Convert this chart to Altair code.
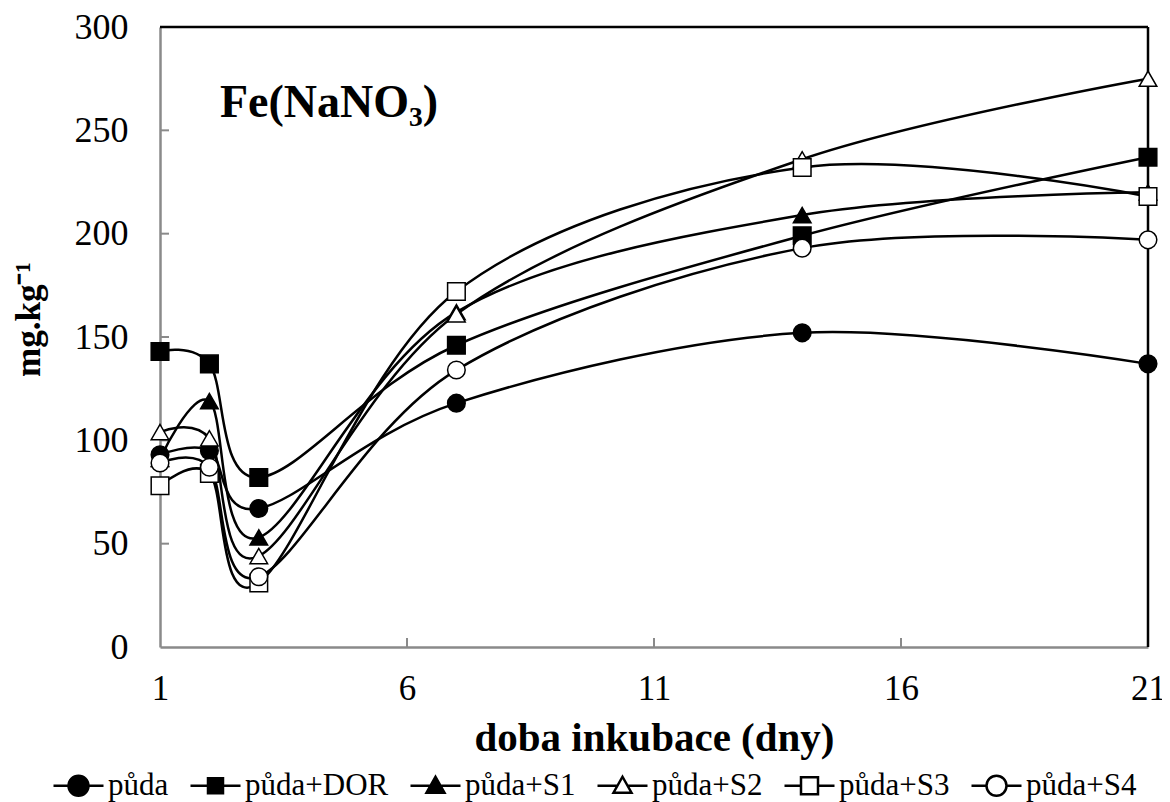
import altair as alt
import pandas as pd

# ---- data ----
days = [1, 2, 3, 7, 14, 21]
series_names = ["půda", "půda+DOR", "půda+S1", "půda+S2", "půda+S3", "půda+S4"]
puda = [93, 95, 67, 118, 152, 137]
puda_dor = [143, 137, 82, 146, 199, 237]
puda_s1 = [91, 119, 53, 162, 209, 220]
puda_s2 = [104, 101, 44, 161, 236, 275]
puda_s3 = [78, 84, 31, 172, 232, 218]
puda_s4 = [89, 87, 34, 134, 193, 197]
x_ticks = [1, 6, 11, 16, 21]
y_ticks = [0, 50, 100, 150, 200, 250, 300]

all_series = [puda, puda_dor, puda_s1, puda_s2, puda_s3, puda_s4]
rows = []
for name, vals in zip(series_names, all_series):
    for d, v in zip(days, vals):
        rows.append({"series": name, "day": d, "value": v})
df = pd.DataFrame(rows)

# ---- styles ----
FONT = "Liberation Serif"
GRAY = "#8a8a8a"
marker_shapes = ["circle", "square", "triangle-up", "triangle-up", "square", "circle"]
marker_fills = ["black", "black", "black", "white", "white", "white"]
legend_strokes = ["black"] * 6
legend_paths = [
    "M-1,0H-0.4M0.4,0H1M0.4,0A0.4,0.4,0,1,1,-0.4,0A0.4,0.4,0,1,1,0.4,0Z",
    "M-1,0H-0.3M0.3,0H1M-0.3,-0.3H0.3V0.3H-0.3Z",
    "M-1,0H-0.2M0.2,0H1M0,-0.36L0.36,0.28L-0.36,0.28Z",
    "M-1,0H-0.2M0.2,0H1M0,-0.36L0.36,0.28L-0.36,0.28Z",
    "M-1,0H-0.34M0.34,0H1M-0.34,-0.34H0.34V0.34H-0.34Z",
    "M-1,0H-0.4M0.4,0H1M0.4,0A0.4,0.4,0,1,1,-0.4,0A0.4,0.4,0,1,1,0.4,0Z",
]

x_scale = alt.Scale(domain=[1, 21], nice=False, zero=False)
y_scale = alt.Scale(domain=[0, 300], nice=False)

x_enc = alt.X(
    "day:Q", scale=x_scale,
    axis=alt.Axis(values=x_ticks, title="doba inkubace (dny)", labelFontSize=35,
                  labelBaseline="alphabetic", labelPadding=52, labelFlush=False,
                  titleFontSize=41, titleFontWeight="bold", titleBaseline="alphabetic",
                  titleY=103, titleX=494),
)
y_enc = alt.Y(
    "value:Q", scale=y_scale,
    axis=alt.Axis(values=y_ticks, title="mg.kg⁻¹", labelFontSize=36, labelPadding=32,
                  labelFlush=False,
                  titleFontSize=35, titleFontWeight="bold", titleBaseline="alphabetic",
                  titleX=-121, titleY=292),
)

base = alt.Chart(df)

lines = base.mark_line(interpolate="cardinal", color="black", strokeWidth=2.5).encode(
    x=x_enc, y=y_enc, detail="series:N"
)

points = base.mark_point(filled=True, size=310, stroke="black", strokeWidth=1.5, opacity=1).encode(
    x=x_enc, y=y_enc,
    shape=alt.Shape("series:N", scale=alt.Scale(domain=series_names, range=marker_shapes), legend=None),
    fill=alt.Fill("series:N", scale=alt.Scale(domain=series_names, range=marker_fills), legend=None),
)

legend_props = dict(
    orient="none", legendX=-108, legendY=732, direction="horizontal", columns=6,
    title=None, symbolSize=2500, symbolStrokeWidth=2.5, symbolStrokeColor="black",
    labelFont=FONT, labelFontSize=31, labelColor="black", labelOffset=3,
    columnPadding=16, padding=0, labelLimit=400,
)

legend_layer = base.transform_filter("false").mark_point(
    filled=True, strokeWidth=2.5, opacity=1
).encode(
    x=x_enc, y=y_enc,
    shape=alt.Shape("series:N", scale=alt.Scale(domain=series_names, range=legend_paths),
                    legend=alt.Legend(**legend_props)),
    fill=alt.Fill("series:N", scale=alt.Scale(domain=series_names, range=marker_fills),
                  legend=alt.Legend(**legend_props)),
    stroke=alt.Stroke("series:N", scale=alt.Scale(domain=series_names, range=legend_strokes),
                      legend=alt.Legend(**legend_props)),
)

# frame top/right
frame_df = pd.DataFrame({"k": [0]})
top_border = alt.Chart(frame_df).mark_rule(color="black", strokeWidth=2.5).encode(
    x=alt.datum(1), x2=alt.datum(21), y=alt.datum(300)
)
right_border = alt.Chart(frame_df).mark_rule(color="black", strokeWidth=2.5).encode(
    x=alt.datum(21), y=alt.datum(0), y2=alt.datum(300)
)

# inward ticks
ytick_df = pd.DataFrame({"value": y_ticks[1:]})
yticks = alt.Chart(ytick_df).mark_rule(color=GRAY, strokeWidth=2).encode(
    y=y_enc, x=alt.value(0), x2=alt.value(9)
)
xtick_df = pd.DataFrame({"day": x_ticks[1:-1]})
xticks = alt.Chart(xtick_df).mark_rule(color=GRAY, strokeWidth=2).encode(
    x=x_enc, y=alt.value(620), y2=alt.value(611)
)

title_df = pd.DataFrame({"t": ["Fe(NaNO₃)"]})
title = alt.Chart(title_df).mark_text(
    font=FONT, fontSize=46, fontWeight="bold", align="left", baseline="alphabetic", color="black"
).encode(text="t:N", x=alt.value(60), y=alt.value(90))

chart = alt.layer(
    yticks, xticks, top_border, right_border, lines, points, legend_layer, title
).resolve_scale(
    shape="independent", fill="independent", stroke="independent"
).properties(
    width=988, height=620,
    padding={"left": 152, "top": 19, "right": 14, "bottom": 155},
    autosize=alt.AutoSizeParams(type="none"),
    background="white",
).configure_axis(
    labelFont=FONT, titleFont=FONT, labelColor="black", titleColor="black",
    domainColor=GRAY, domainWidth=2.5, ticks=False, tickSize=0, grid=False,
).configure_view(stroke=None)

chart.save("out.html", embed_options={"renderer": "svg", "actions": False})
